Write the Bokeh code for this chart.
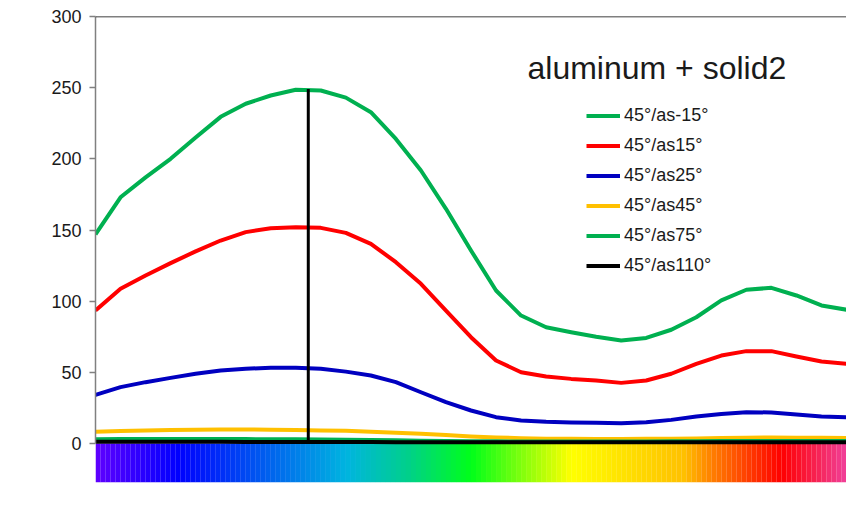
import numpy as np
from bokeh.plotting import figure
from bokeh.models import Range1d, FixedTicker, Label, Legend, LegendItem, Span
from bokeh.embed import file_html
from bokeh.resources import INLINE

# ---------------- data ----------------
wavelength = [400, 410, 420, 430, 440, 450, 460, 470, 480, 490, 500, 510, 520, 530, 540,
              550, 560, 570, 580, 590, 600, 610, 620, 630, 640, 650, 660, 670, 680, 690, 700]

as_m15 = [147.0, 173.0, 187.0, 200.0, 215.0, 229.5, 238.7, 244.5, 248.5, 248.0, 243.0,
          232.8, 214.0, 191.8, 164.9, 135.6, 107.5, 89.9, 81.7, 78.2, 75.0, 72.4, 74.2,
          79.9, 88.7, 100.5, 108.0, 109.4, 104.0, 97.0, 94.0]
as_15 = [93.4, 108.7, 118.0, 126.7, 135.0, 142.6, 148.5, 151.3, 152.0, 151.5, 148.0,
         140.3, 127.4, 112.2, 93.4, 74.7, 58.3, 50.1, 47.1, 45.4, 44.3, 42.6, 44.3,
         49.0, 56.0, 61.8, 64.9, 64.9, 61.1, 57.6, 56.0]
as_25 = [34.2, 39.6, 43.1, 46.1, 49.0, 51.3, 52.5, 53.2, 53.2, 52.5, 50.5, 47.8, 43.1,
         36.0, 29.0, 23.2, 18.5, 16.2, 15.2, 14.8, 14.5, 14.3, 15.0, 16.6, 19.0, 20.8,
         22.0, 21.8, 20.4, 19.0, 18.5]
as_45 = [8.2, 8.8, 9.2, 9.5, 9.7, 9.8, 9.8, 9.7, 9.5, 9.2, 8.9, 8.3, 7.6, 6.8, 6.0, 5.0,
         4.3, 3.7, 3.4, 3.3, 3.2, 3.2, 3.3, 3.4, 3.6, 3.9, 4.1, 4.2, 4.1, 4.0, 3.9]
as_75 = [3.0, 3.1, 3.2, 3.2, 3.2, 3.2, 3.1, 3.0, 2.9, 2.8, 2.6, 2.4, 2.2, 2.0, 1.8, 1.6,
         1.5, 1.4, 1.4, 1.4, 1.4, 1.4, 1.4, 1.5, 1.6, 1.7, 1.8, 1.8, 1.8, 1.7, 1.7]
as_110 = [1.2, 1.2, 1.2, 1.2, 1.2, 1.2, 1.1, 1.1, 1.1, 1.0, 1.0, 1.0, 0.9, 0.9, 0.8, 0.8,
          0.8, 0.8, 0.8, 0.8, 0.8, 0.8, 0.8, 0.8, 0.8, 0.9, 0.9, 0.9, 0.9, 0.9, 0.9]

series_names = ["45°/as-15°", "45°/as15°", "45°/as25°", "45°/as45°", "45°/as75°", "45°/as110°"]
series_values = [as_m15, as_15, as_25, as_45, as_75, as_110]
series_colors = ["#00b050", "#ff0000", "#0000c0", "#ffc000", "#00b050", "#000000"]

y_ticks = [0, 50, 100, 150, 200, 250, 300]

marker_nm = 485
marker_top = 249

spectrum_nm = [400, 433, 500, 525, 550, 590, 635, 646, 674, 700]
spectrum_colors = ["#6000ff", "#0000ff", "#00b4e0", "#00d08a", "#00ff1a", "#ffff00",
                   "#ffc000", "#ff8000", "#ff0000", "#f0409a"]

FONT = "Liberation Sans"
TXT = "#1a1a1a"
Y_MAX = 300
BAR_DEPTH = 27.4

p = figure(width=846, height=514, output_backend="svg", toolbar_location=None, title=None,
           x_range=Range1d(wavelength[0], wavelength[-1]),
           y_range=Range1d(-BAR_DEPTH, Y_MAX),
           min_border_left=95, min_border_right=0, min_border_top=16, min_border_bottom=32)
p.outline_line_color = None
p.grid.visible = False
p.xaxis.visible = False
p.background_fill_color = "white"
p.border_fill_color = "white"

ya = p.yaxis[0]
ya.ticker = FixedTicker(ticks=y_ticks)
ya.bounds = (0, Y_MAX)
ya.axis_line_color = "#808080"
ya.axis_line_width = 1.5
ya.major_tick_line_color = "#808080"
ya.major_tick_line_width = 1.5
ya.major_tick_out = 6
ya.major_tick_in = 0
ya.minor_tick_line_color = None
ya.major_label_standoff = 8
ya.major_label_text_font = FONT
ya.major_label_text_font_size = "18px"
ya.major_label_text_color = TXT

# spectrum colour bar below zero
def hex2rgb(h):
    return np.array([int(h[i:i + 2], 16) for i in (1, 3, 5)], dtype=float)

stops_rgb = np.array([hex2rgb(c) for c in spectrum_colors])
edges = np.linspace(spectrum_nm[0], spectrum_nm[-1], 151)
centers = (edges[:-1] + edges[1:]) / 2
cols = []
for c in centers:
    rgb = [np.interp(c, spectrum_nm, stops_rgb[:, k]) for k in range(3)]
    cols.append("#%02x%02x%02x" % tuple(int(round(v)) for v in rgb))
p.quad(left=edges[:-1], right=edges[1:] + 0.05, bottom=-BAR_DEPTH, top=0,
       fill_color=cols, line_color=None)

# top border
p.add_layout(Span(location=Y_MAX, dimension="width", line_color="black", line_width=1.5))

items = []
for name, vals, col in zip(series_names, series_values, series_colors):
    r = p.line(wavelength, vals, line_color=col, line_width=4, line_join="round")
    items.append(LegendItem(label=name, renderers=[r]))

p.segment(x0=[marker_nm], y0=[0], x1=[marker_nm], y1=[marker_top],
          line_color="black", line_width=3)

legend = Legend(items=items, location=(491, 206), padding=0, margin=0,
                glyph_width=34, glyph_height=21, label_height=21, spacing=9,
                label_standoff=4, label_text_font=FONT, label_text_font_size="18px",
                label_text_color=TXT, background_fill_alpha=0, border_line_color=None)
p.add_layout(legend)

p.add_layout(Label(x=432, y=415, x_units="screen", y_units="screen",
                   text="aluminum + solid2", text_font=FONT, text_font_size="32px",
                   text_color=TXT, text_baseline="alphabetic"))
p.add_layout(Label(x=-71, y=436, x_units="screen", y_units="screen",
                   text="R [%]", text_font=FONT, text_font_size="18px",
                   text_color=TXT, text_baseline="middle"))
p.add_layout(Label(x=570, y=-23, x_units="screen", y_units="screen",
                   text="Wellenlänge [λ]", text_font=FONT, text_font_size="18px",
                   text_color=TXT, text_baseline="middle"))

open("out.html", "w").write(file_html(p, INLINE))
